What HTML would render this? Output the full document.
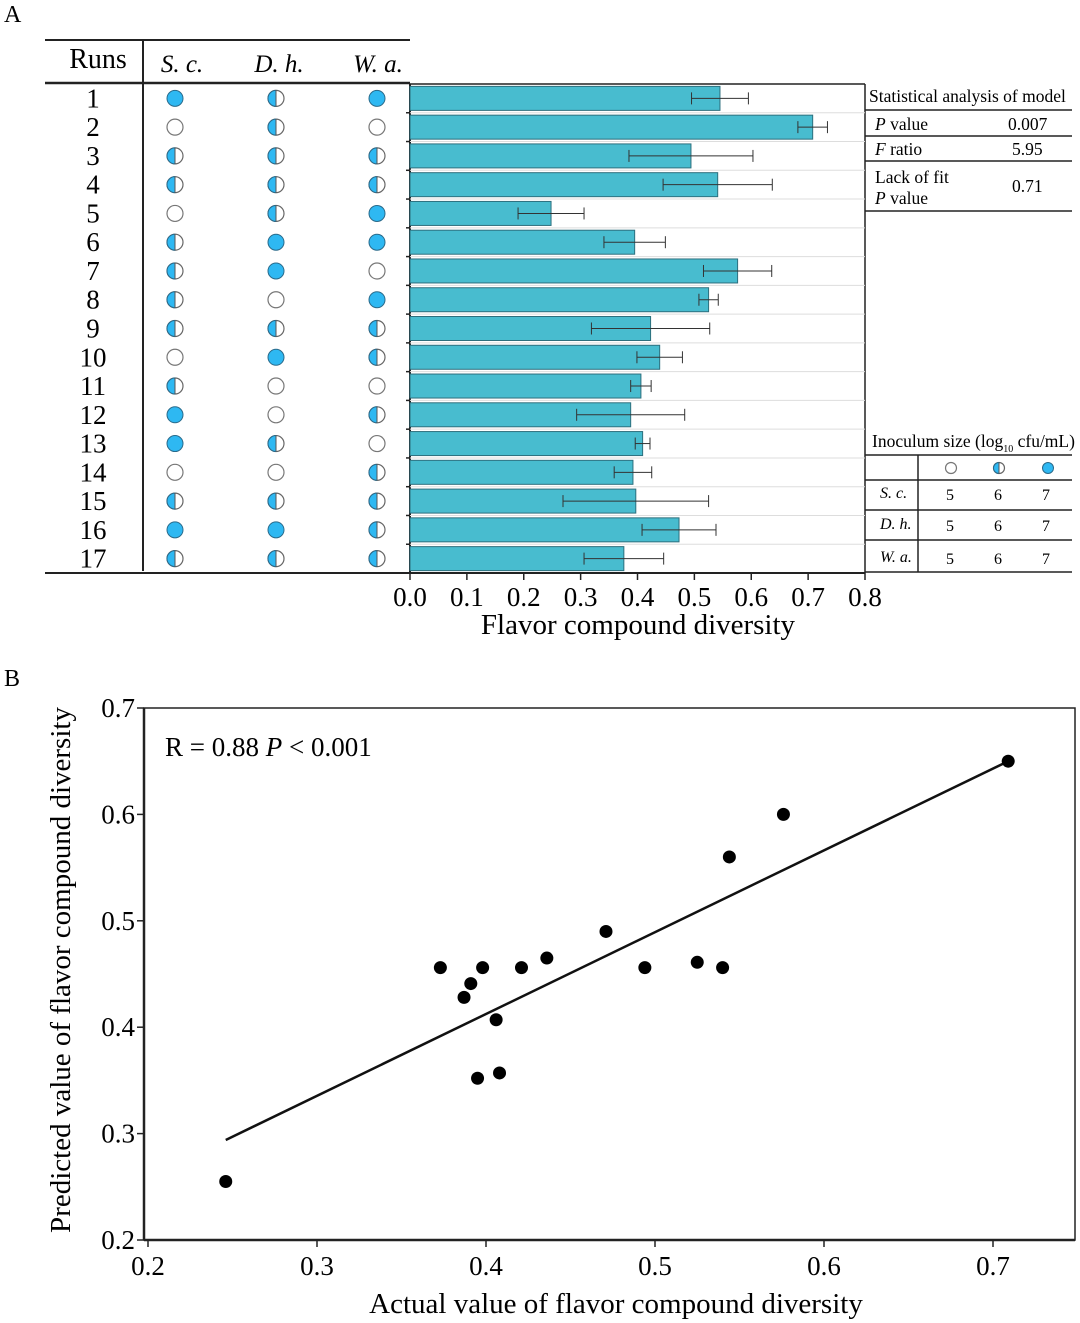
<!DOCTYPE html>
<html><head><meta charset="utf-8"><style>
html,body{margin:0;padding:0;background:#fff;}
svg{display:block;font-family:"Liberation Serif",serif;}
</style></head><body>
<svg id="fig" width="1080" height="1323" viewBox="0 0 1080 1323" xmlns="http://www.w3.org/2000/svg">
<g id="pa"></g>
<g id="pb"></g>
</svg>
<script>
// Panel A data
const runs = [1,2,3,4,5,6,7,8,9,10,11,12,13,14,15,16,17];
const diversity = [0.545,0.708,0.494,0.541,0.248,0.395,0.576,0.525,0.423,0.439,0.406,0.388,0.409,0.392,0.397,0.473,0.376];
const errors = [0.05,0.026,0.109,0.096,0.058,0.054,0.06,0.017,0.104,0.04,0.018,0.095,0.013,0.033,0.128,0.065,0.07];
const levelSc = [7,5,6,6,5,6,6,6,6,5,6,7,7,5,6,7,6];
const levelDh = [6,6,6,6,6,7,7,5,6,7,5,5,6,5,6,7,6];
const levelWa = [7,5,6,6,7,7,5,7,6,6,5,6,5,6,6,6,6];
const barTicks = [0,0.1,0.2,0.3,0.4,0.5,0.6,0.7,0.8];
// Panel B data
const actual = [0.246,0.373,0.391,0.387,0.398,0.406,0.395,0.408,0.421,0.436,0.471,0.494,0.525,0.540,0.544,0.576,0.709];
const predicted = [0.255,0.456,0.441,0.428,0.456,0.407,0.352,0.357,0.456,0.465,0.490,0.456,0.461,0.456,0.560,0.600,0.650];
const fitX = [0.246,0.709];
const fitY = [0.294,0.650];
const xTicksB = [0.2,0.3,0.4,0.5,0.6,0.7];
const yTicksB = [0.2,0.3,0.4,0.5,0.6,0.7];

const NS='http://www.w3.org/2000/svg';
function mk(parent,tag,attrs,text){const e=document.createElementNS(NS,tag);for(const k in attrs)e.setAttribute(k,attrs[k]);if(text!==undefined)e.textContent=text;parent.appendChild(e);return e;}
const BLUE='#2eb8f2', BAR='#48bccf';
const pa=document.getElementById('pa'), pb=document.getElementById('pb');

// Panel A
let t=mk(pa,'text',{x:4,y:22,'font-size':24},'A');


const x0=410,x1=865,yTop=84,yBot=573,rowH=(yBot-yTop)/runs.length;
const xs=v=>x0+(v/0.8)*(x1-x0);
const yc=i=>yTop+rowH*(i+0.5);
mk(pa,'line',{x1:45,y1:40,x2:410,y2:40,stroke:'#222','stroke-width':2});
mk(pa,'line',{x1:45,y1:83,x2:410,y2:83,stroke:'#222','stroke-width':2.5});
mk(pa,'line',{x1:143,y1:40,x2:143,y2:571,stroke:'#222','stroke-width':2});
mk(pa,'line',{x1:45,y1:573,x2:865,y2:573,stroke:'#222','stroke-width':2});
mk(pa,'line',{x1:410,y1:84,x2:865,y2:84,stroke:'#222','stroke-width':1.5});
mk(pa,'line',{x1:865,y1:84,x2:865,y2:573,stroke:'#222','stroke-width':1.5});
mk(pa,'line',{x1:410,y1:84,x2:410,y2:573,stroke:'#222','stroke-width':2});
const hd=[['Runs',98,false],['S. c.',182,true],['D. h.',279,true],['W. a.',378,true]];
hd.forEach(h=>{const e=mk(pa,'text',{x:h[1],y:h[0]==='Runs'?68:72,'font-size':h[0]==='Runs'?28:25,'text-anchor':'middle','font-style':h[2]?'italic':'normal'},h[0]);

});
function circ(g,cx,cy,r,lvl){
  if(lvl===7){mk(g,'circle',{cx:cx,cy:cy,r:r,fill:BLUE,stroke:'#2a6a8a','stroke-width':1});}
  else if(lvl===5){mk(g,'circle',{cx:cx,cy:cy,r:r,fill:'#fff',stroke:'#777','stroke-width':1.2});}
  else{mk(g,'circle',{cx:cx,cy:cy,r:r,fill:'#fff',stroke:'#666','stroke-width':1.2});
   mk(g,'path',{d:`M${cx},${cy-r} A${r},${r} 0 0 0 ${cx},${cy+r} Z`,fill:BLUE,stroke:'#2a6a8a','stroke-width':1});
   mk(g,'line',{x1:cx,y1:cy-r,x2:cx,y2:cy+r,stroke:'#555','stroke-width':1});}
}
runs.forEach((r,i)=>{
  const y=yc(i);
  const n=mk(pa,'text',{x:93,y:y+9,'font-size':27,'text-anchor':'middle'},String(r));
  
  
  [[175,levelSc],[276,levelDh],[377,levelWa]].forEach(c=>{
    const g=mk(pa,'g',{});
    
    
    circ(g,c[0],y,8,c[1][i]);
  });
  if(i>0){mk(pa,'line',{x1:x0,y1:yTop+rowH*i,x2:x1,y2:yTop+rowH*i,stroke:'#ddd','stroke-width':1});
    mk(pa,'line',{x1:x0-4,y1:yTop+rowH*i,x2:x0,y2:yTop+rowH*i,stroke:'#222','stroke-width':1.5});}
  const b=mk(pa,'rect',{x:x0,y:y-12,width:xs(diversity[i])-x0,height:24,fill:BAR,stroke:'#2d6f7d','stroke-width':1});
  
  
  const lo=xs(diversity[i]-errors[i]),hi=xs(diversity[i]+errors[i]);
  const eb=mk(pa,'g',{stroke:'#333','stroke-width':1});
  
  
  mk(eb,'line',{x1:lo,y1:y,x2:hi,y2:y});mk(eb,'line',{x1:lo,y1:y-6,x2:lo,y2:y+6});mk(eb,'line',{x1:hi,y1:y-6,x2:hi,y2:y+6});
});
barTicks.forEach(v=>{mk(pa,'line',{x1:xs(v),y1:573,x2:xs(v),y2:580,stroke:'#222','stroke-width':1.5});
  const e=mk(pa,'text',{x:xs(v),y:606,'font-size':27,'text-anchor':'middle'},v.toFixed(1));
  
  });
t=mk(pa,'text',{x:638,y:634,'font-size':29,'text-anchor':'middle'},'Flavor compound diversity');


const st=mk(pa,'g',{'font-size':17.5});


mk(st,'text',{x:869,y:102},'Statistical analysis of model');
[110,136,161,211].forEach(y=>mk(st,'line',{x1:865,y1:y,x2:1072,y2:y,stroke:'#222','stroke-width':1.5}));
const pv=mk(st,'text',{x:875,y:130});mk(pv,'tspan',{'font-style':'italic'},'P');mk(pv,'tspan',{},' value');
mk(st,'text',{x:1008,y:130},'0.007');
const fr=mk(st,'text',{x:875,y:155});mk(fr,'tspan',{'font-style':'italic'},'F');mk(fr,'tspan',{},' ratio');
mk(st,'text',{x:1012,y:155},'5.95');
mk(st,'text',{x:875,y:183},'Lack of fit');
const lp=mk(st,'text',{x:875,y:204});mk(lp,'tspan',{'font-style':'italic'},'P');mk(lp,'tspan',{},' value');
mk(st,'text',{x:1012,y:192},'0.71');
const it=mk(pa,'g',{'font-size':17.5});


const tt=mk(it,'text',{x:872,y:447});mk(tt,'tspan',{},'Inoculum size (log');mk(tt,'tspan',{'font-size':10,dy:5},'10');mk(tt,'tspan',{dy:-5},' cfu/mL)');
[455,480,510,540,572].forEach(y=>mk(it,'line',{x1:865,y1:y,x2:1072,y2:y,stroke:'#222','stroke-width':1.5}));
mk(it,'line',{x1:918,y1:455,x2:918,y2:572,stroke:'#222','stroke-width':1.5});
circ(it,951,468,5.5,5);circ(it,999,468,5.5,6);circ(it,1048,468,5.5,7);
[['S. c.',498],['D. h.',529],['W. a.',562]].forEach(r=>{mk(it,'text',{x:880,y:r[1],'font-style':'italic','font-size':16},r[0]);
  [5,6,7].forEach((v,k)=>mk(it,'text',{x:950+k*48,y:r[1]+2,'text-anchor':'middle','font-size':16},String(v)));});

// Panel B
t=mk(pb,'text',{x:4,y:686,'font-size':24},'B');


const bx0=144,bx1=1075,by0=1240,by1=708;
const sx=v=>148+(v-0.2)*1690;
const sy=v=>by0-(v-0.2)*(by0-by1)/0.5;
mk(pb,'rect',{x:bx0,y:by1,width:bx1-bx0,height:by0-by1,fill:'none',stroke:'#222','stroke-width':1.5});
mk(pb,'line',{x1:bx0,y1:by1,x2:bx0,y2:by0,stroke:'#222','stroke-width':2.5});
mk(pb,'line',{x1:bx0,y1:by0,x2:bx1,y2:by0,stroke:'#222','stroke-width':2.5});
xTicksB.forEach(v=>{mk(pb,'line',{x1:sx(v),y1:by0,x2:sx(v),y2:by0+7,stroke:'#222','stroke-width':1.5});
  const e=mk(pb,'text',{x:sx(v),y:1275,'font-size':27,'text-anchor':'middle'},v.toFixed(1));
  
  });
yTicksB.forEach(v=>{mk(pb,'line',{x1:bx0-7,y1:sy(v),x2:bx0,y2:sy(v),stroke:'#222','stroke-width':1.5});
  const e=mk(pb,'text',{x:bx0-9,y:sy(v)+9,'font-size':27,'text-anchor':'end'},v.toFixed(1));
  
  });
const fl=mk(pb,'line',{x1:sx(fitX[0]),y1:sy(fitY[0]),x2:sx(fitX[1]),y2:sy(fitY[1]),stroke:'#111','stroke-width':2.5});


actual.forEach((a,i)=>{const c=mk(pb,'circle',{cx:sx(a),cy:sy(predicted[i]),r:6.5,fill:'#000'});
  
  });
const an=mk(pb,'text',{x:165,y:756,'font-size':27});mk(an,'tspan',{},'R = 0.88  ');mk(an,'tspan',{'font-style':'italic'},'P');mk(an,'tspan',{},' < 0.001');


t=mk(pb,'text',{x:616,y:1313,'font-size':29,'text-anchor':'middle'},'Actual value of flavor compound diversity');


t=mk(pb,'text',{x:0,y:0,'font-size':29,'text-anchor':'middle',transform:'translate(70,970) rotate(-90)'},'Predicted value of flavor compound diversity');


</script>
</body></html>
